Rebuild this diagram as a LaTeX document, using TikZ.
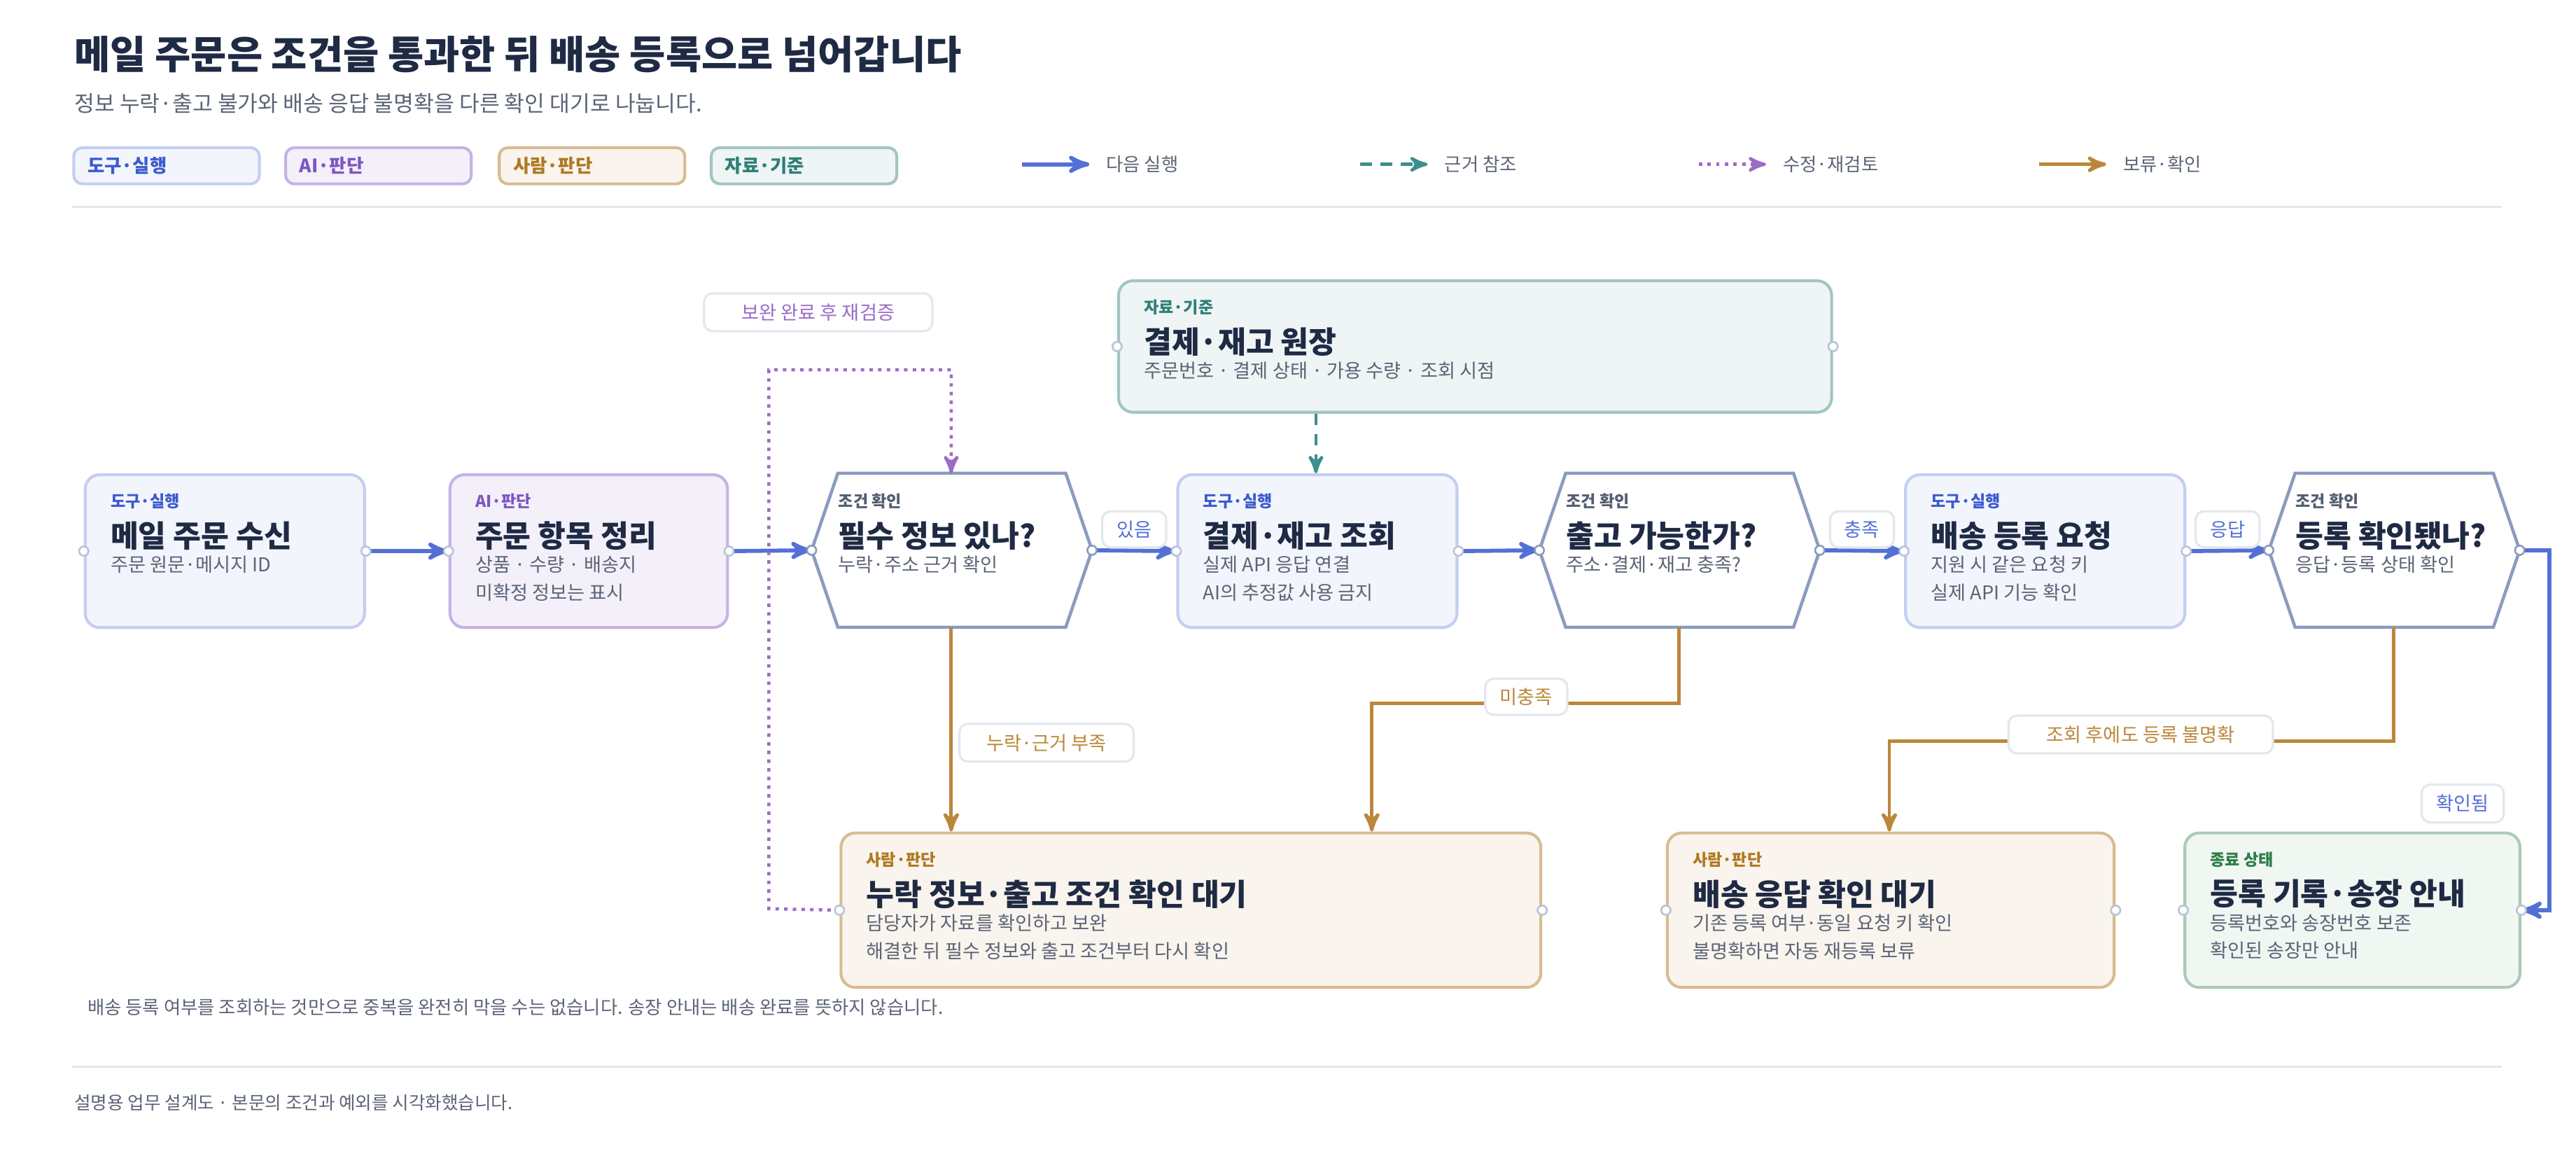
\documentclass[tikz,border=0pt]{standalone}
\usepackage{fontspec}
\setmainfont{Noto Sans CJK KR}
\usetikzlibrary{arrows,calc,positioning}
\definecolor{ink}{HTML}{1F2A44}
\definecolor{muted}{HTML}{5B6476}
\definecolor{toolc}{HTML}{3C5BD0}
\definecolor{aic}{HTML}{7E57C2}
\definecolor{humanc}{HTML}{B07A22}
\definecolor{datac}{HTML}{2F7F78}
\definecolor{endc}{HTML}{2E7D4A}
\definecolor{flowc}{HTML}{5470D6}
\definecolor{holdc}{HTML}{BB873A}
\definecolor{fixc}{HTML}{9A6CC8}
\definecolor{refc}{HTML}{3E8E8E}
\definecolor{hexc}{HTML}{8A9CBE}
\definecolor{rulec}{HTML}{E3E7EF}

\newcommand{\card}[9]{%
  \node[box,#2,minimum width=#5*0.02cm,minimum height=#6*0.02cm,anchor=north west] (#1) at (#3,#4) {};
  \node[tagtext,#2 tag] at ($(#1.north west)+(16,17)$) {#7};
  \node[titletext] at ($(#1.north west)+(16,38)$) {#8};
  \node[subtext] at ($(#1.north west)+(16,50)$) {#9};
  \node[port,#2] at (#1.west) {};
  \node[port,#2] at (#1.east) {};}
\newcommand{\hexa}[7]{%
  \node[minimum width=#4*0.02cm,minimum height=#5*0.02cm,anchor=north west,inner sep=0pt] (#1) at (#2,#3) {};
  \draw[hexc,line width=1.1pt,fill=white] (#1.west) -- ($(#1.north west)+(16,0)$) -- ($(#1.north east)+(-16,0)$)
    -- (#1.east) -- ($(#1.south east)+(-16,0)$) -- ($(#1.south west)+(16,0)$) -- cycle;
  \node[tagtext,text=hexc!60!black] at ($(#1.north west)+(16,17)$) {조건 확인};
  \node[titletext] at ($(#1.north west)+(16,38)$) {#6};
  \node[subtext] at ($(#1.north west)+(16,50)$) {#7};
  \node[port,draw=hexc] at (#1.west) {};
  \node[port,draw=hexc] at (#1.east) {};}

\begin{document}
\begin{tikzpicture}[x=0.02cm,y=-0.02cm,>=stealth',
    box/.style={rounded corners=5pt,line width=1pt},
    tool/.style={fill=toolc!6,draw=toolc!30}, tool tag/.style={text=toolc},
    ai/.style={fill=aic!9,draw=aic!45}, ai tag/.style={text=aic},
    human/.style={fill=humanc!8,draw=humanc!50}, human tag/.style={text=humanc},
    data/.style={fill=datac!8,draw=datac!45}, data tag/.style={text=datac},
    final/.style={fill=endc!7,draw=endc!40}, final tag/.style={text=endc},
    tagtext/.style={anchor=west,inner sep=0pt,font=\fontsize{5.6}{7}\selectfont\bfseries},
    titletext/.style={anchor=west,inner sep=0pt,text=ink,font=\fontsize{10.5}{12}\selectfont\bfseries},
    subtext/.style={anchor=north west,inner sep=0pt,align=left,text=muted,font=\fontsize{6.6}{9.6}\selectfont},
    port/.style={circle,fill=white,inner sep=0pt,minimum size=3.2pt,line width=0.6pt},
    flow/.style={->,flowc,line width=1.4pt},
    hold/.style={->,holdc,line width=1.2pt},
    fix/.style={->,fixc,line width=1.1pt,dash pattern=on 1.2pt off 1.8pt},
    ref/.style={->,refc,line width=1.1pt,dash pattern=on 4pt off 3pt},
    elabel/.style={fill=white,draw=rulec,rounded corners=3pt,line width=0.8pt,inner sep=0pt,font=\fontsize{6.6}{8}\selectfont}]
  \useasboundingbox (0,0) rectangle (1568,699);

  % header
  \node[anchor=west,inner sep=0pt,text=ink,font=\fontsize{13.5}{16}\selectfont\bfseries] (title) at (45,33) {메일 주문은 조건을 통과한 뒤 배송 등록으로 넘어갑니다};
  \node[anchor=west,inner sep=0pt,text=muted,font=\fontsize{7.6}{9}\selectfont] (subtitle) at (45,63) {정보 누락·출고 불가와 배송 응답 불명확을 다른 확인 대기로 나눕니다.};

  % legend
  \foreach \x/\k/\t in {44/tool/도구·실행,173/ai/AI·판단,303/human/사람·판단,432/data/자료·기준}{
    \node[box,\k,rounded corners=3pt,minimum width=113*0.02cm,minimum height=22*0.02cm,anchor=north west] (lg\k) at (\x,89) {};
    \node[tagtext,\k\space tag,font=\fontsize{6.4}{8}\selectfont\bfseries] at ($(lg\k.west)+(9,0)$) {\t};
  }
  \foreach \x/\s/\t [count=\i] in {622/flow/다음 실행,828/ref/근거 참조,1034/fix/수정·재검토,1241/hold/보류·확인}{
    \coordinate (la\i) at (\x,100);
    \coordinate (lb\i) at (\x+41,100);
    \draw[\s] (la\i) -- (lb\i);
    \node[anchor=west,inner sep=0pt,text=muted,font=\fontsize{6.4}{8}\selectfont] at ($(lb\i)+(10,0)$) {\t};
  }
  \draw[rulec,line width=0.8pt] (44,126) -- (1523,126);

  % row one
  \card{mail}{tool}{51}{288}{170}{93}{도구·실행}{메일 주문 수신}{주문 원문·메시지 ID}
  \card{parse}{ai}{273}{288}{169}{93}{AI·판단}{주문 항목 정리}{상품 · 수량 · 배송지\\미확정 정보는 표시}
  \hexa{need}{494}{288}{170}{93}{필수 정보 있나?}{누락·주소 근거 확인}
  \card{stock}{tool}{716}{288}{170}{93}{도구·실행}{결제·재고 조회}{실제 API 응답 연결\\AI의 추정값 사용 금지}
  \hexa{ship}{937}{288}{170}{93}{출고 가능한가?}{주소·결제·재고 충족?}
  \card{reg}{tool}{1159}{288}{170}{93}{도구·실행}{배송 등록 요청}{지원 시 같은 요청 키\\실제 API 기능 확인}
  \hexa{done}{1381}{288}{152}{93}{등록 확인됐나?}{응답·등록 상태 확인}
  \card{ledger}{data}{680}{170}{434}{80}{자료·기준}{결제·재고 원장}{주문번호 · 결제 상태 · 가용 수량 · 조회 시점}

  % row two
  \card{wait}{human}{511}{506}{426}{94}{사람·판단}{누락 정보·출고 조건 확인 대기}{담당자가 자료를 확인하고 보완\\해결한 뒤 필수 정보와 출고 조건부터 다시 확인}
  \card{resp}{human}{1014}{506}{272}{94}{사람·판단}{배송 응답 확인 대기}{기존 등록 여부·동일 요청 키 확인\\불명확하면 자동 재등록 보류}
  \card{close}{final}{1329}{506}{204}{94}{종료 상태}{등록 기록·송장 안내}{등록번호와 송장번호 보존\\확인된 송장만 안내}

  % connectors
  \draw[flow] (mail.east) -- (parse.west);
  \draw[flow] (parse.east) -- (need.west);
  \draw[flow] (need.east) -- node[elabel,text=flowc,minimum width=39*0.02cm,minimum height=22*0.02cm,yshift=13*0.02cm] {있음} (stock.west);
  \draw[flow] (stock.east) -- (ship.west);
  \draw[flow] (ship.east) -- node[elabel,text=flowc,minimum width=39*0.02cm,minimum height=22*0.02cm,yshift=13*0.02cm] {충족} (reg.west);
  \draw[flow] (reg.east) -- node[elabel,text=flowc,minimum width=39*0.02cm,minimum height=22*0.02cm,yshift=13*0.02cm] {응답} (done.west);
  \draw[flow] (done.east) -- ++(18,0) |- (close.east);
  \node[elabel,text=flowc,minimum width=50*0.02cm,minimum height=23*0.02cm] (okl) at (1499,489) {확인됨};
  \draw[ref] (ledger.south -| 801,0) -- (stock.north -| 801,0);
  \draw[hold] (need.south -| 579,0) -- (wait.north -| 579,0);
  \node[elabel,text=holdc,minimum width=106*0.02cm,minimum height=23*0.02cm] (lackl) at (637,452) {누락·근거 부족};
  \draw[hold] (ship.south -| 1022,0) -- (1022,428) -- (835,428) -- (wait.north -| 835,0);
  \node[elabel,text=holdc,minimum width=50*0.02cm,minimum height=22*0.02cm] (notl) at (929,424) {미충족};
  \draw[hold] (done.south -| 1457,0) -- (1457,451) -- (1150,451) -- (resp.north -| 1150,0);
  \node[elabel,text=holdc,minimum width=161*0.02cm,minimum height=23*0.02cm] (unkl) at (1303,447) {조회 후에도 등록 불명확};
  \draw[fix] (wait.west) -- (468,553) -- (468,225) -- (579,225) -- (need.north -| 579,0);
  \node[elabel,text=fixc,minimum width=139*0.02cm,minimum height=23*0.02cm] (rel) at (498,190) {보완 완료 후 재검증};
  \foreach \n in {mail,parse,stock,reg,wait,resp,close,ledger}{
    \node[port,draw=hexc!60] at (\n.west) {};
    \node[port,draw=hexc!60] at (\n.east) {};
  }
  \foreach \n in {need,ship,done}{
    \node[port,draw=hexc] at (\n.west) {};
    \node[port,draw=hexc] at (\n.east) {};
  }

  % footer
  \node[anchor=west,inner sep=0pt,text=muted,font=\fontsize{6.4}{8}\selectfont] (note) at (53,613) {배송 등록 여부를 조회하는 것만으로 중복을 완전히 막을 수는 없습니다. 송장 안내는 배송 완료를 뜻하지 않습니다.};
  \draw[rulec,line width=0.8pt] (44,649) -- (1523,649);
  \node[anchor=west,inner sep=0pt,text=muted,font=\fontsize{6.2}{8}\selectfont] (foot) at (45,671) {설명용 업무 설계도 · 본문의 조건과 예외를 시각화했습니다.};
\end{tikzpicture}
\end{document}
